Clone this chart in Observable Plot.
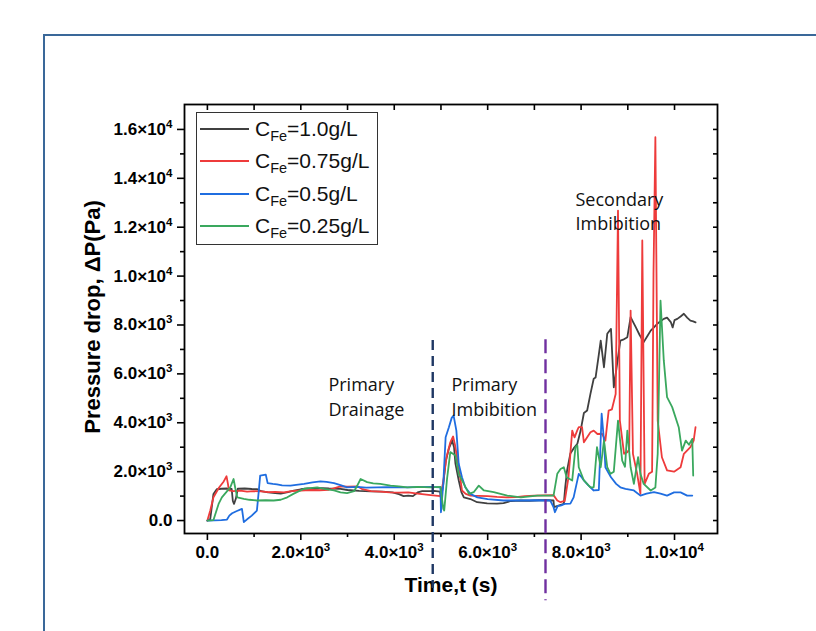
<!DOCTYPE html>
<html><head><meta charset="utf-8">
<script src="https://cdn.jsdelivr.net/npm/d3@7"></script>
<script src="https://cdn.jsdelivr.net/npm/@observablehq/plot@0.6"></script>
<style>
body{margin:0;background:#fff;overflow:hidden}
#wrap{position:relative;width:816px;height:631px;overflow:hidden;background:#fff}
#wrap svg{position:absolute;left:0;top:0}
#border{position:absolute;left:43px;top:34px;width:820px;height:700px;border:2px solid #3a6899;pointer-events:none}
#legend{position:absolute;left:196px;top:112px;width:182px;height:133px;border:1.3px solid #333;box-sizing:border-box;background:#fff;font-family:'Liberation Sans',Arial,sans-serif;font-size:21px;color:#111}
.row{position:absolute;left:0;height:32px;line-height:32px;width:100%}
.sw{position:absolute;left:3px;top:15px;width:49px;height:2px}
.lab{position:absolute;left:58px;top:0;white-space:nowrap}
.lab sub{font-size:14.5px;vertical-align:-5px;line-height:0}
</style></head><body><div id="wrap"></div>
<script>
// ---- data: [time (s), pressure drop (Pa)] ----
const cFe100 = [[0,0],[60,50],[130,1090],[200,1280],[300,1300],[420,1310],[520,1290],[545,800],[570,680],[610,900],[650,1300],[800,1310],[950,1290],[1070,1280],[1150,1200],[1300,1150],[1450,1120],[1570,1100],[1700,1150],[1850,1220],[2000,1280],[2150,1320],[2300,1300],[2450,1330],[2600,1310],[2850,1300],[3000,1250],[3250,1210],[3500,1190],[3750,1180],[3960,1150],[4100,1080],[4200,1000],[4300,1020],[4400,1000],[4500,1150],[4600,1200],[4780,1200],[4850,1210],[4980,1180],[5000,900],[5050,1500],[5100,2400],[5170,2950],[5240,3270],[5280,3000],[5310,2330],[5380,1650],[5440,1150],[5490,950],[5630,880],[5775,750],[5990,700],[6200,690],[6340,710],[6500,800],[6700,820],[6900,810],[7100,830],[7300,830],[7410,820],[7420,550],[7500,600],[7630,680],[7660,1360],[7700,2050],[7770,2740],[7840,2950],[7920,3140],[7990,3680],[8060,4400],[8130,4500],[8200,5180],[8270,5800],[8310,5850],[8380,6800],[8420,7360],[8490,6270],[8560,7640],[8640,7840],[8700,5450],[8770,6400],[8840,7360],[8900,7400],[8990,7500],[9060,8320],[9120,8100],[9170,7910],[9250,7600],[9340,7300],[9420,7550],[9490,7770],[9560,7900],[9630,8050],[9700,8150],[9770,8250],[9840,8300],[9920,8120],[9960,7900],[10000,8200],[10060,8250],[10130,8350],[10200,8460],[10270,8300],[10340,8180],[10400,8150],[10450,8110]];
const cFe075 = [[0,0],[60,400],[130,950],[250,1350],[350,1600],[410,1810],[440,1500],[460,1230],[550,1200],[700,1220],[850,1180],[1000,1200],[1150,1190],[1300,1160],[1450,1170],[1640,1150],[1800,1200],[2000,1230],[2200,1250],[2400,1240],[2600,1260],[2850,1400],[3000,1390],[3210,1400],[3300,1300],[3500,1200],[3700,1180],[3900,1150],[4100,1140],[4300,1150],[4500,1100],[4780,1040],[4990,1000],[5050,1600],[5120,2600],[5200,3200],[5260,3440],[5300,3100],[5380,2200],[5450,1230],[5530,1090],[5630,1020],[5800,1010],[6000,1000],[6200,970],[6400,950],[6600,960],[6800,1000],[7000,1020],[7200,1030],[7410,1040],[7490,820],[7560,750],[7650,800],[7730,1770],[7770,2730],[7810,3680],[7860,3400],[7920,3700],[7950,3820],[8020,3820],[8060,3200],[8130,3410],[8200,3610],[8270,3680],[8350,3540],[8450,3550],[8520,3270],[8590,4500],[8660,4550],[8740,5180],[8790,12680],[8830,4090],[8920,2730],[8990,2800],[9030,2900],[9060,8590],[9110,2730],[9200,1910],[9270,1090],[9310,11460],[9360,1500],[9450,1910],[9520,2000],[9550,10090],[9590,15680],[9640,4090],[9730,2590],[9840,2050],[9990,2000],[10130,2180],[10200,2730],[10340,3000],[10410,3270],[10450,3820]];
const cFe050 = [[0,0],[150,10],[300,20],[420,40],[470,200],[530,300],[620,380],[740,480],[780,-60],[850,50],[950,200],[1060,410],[1100,1200],[1130,1840],[1250,1880],[1290,1530],[1400,1500],[1490,1480],[1600,1440],[1780,1430],[1900,1460],[2070,1500],[2250,1560],[2420,1600],[2550,1580],[2710,1530],[2850,1450],[2990,1360],[3100,1370],[3210,1380],[3400,1350],[3640,1360],[3850,1370],[4050,1360],[4280,1360],[4500,1370],[4780,1380],[4990,1360],[5000,340],[5050,1500],[5100,3410],[5170,3820],[5230,4200],[5270,4300],[5330,3680],[5380,2320],[5450,1770],[5520,1360],[5630,1090],[5780,950],[6000,880],[6340,820],[6700,820],[7000,830],[7340,820],[7410,545],[7440,340],[7500,600],[7560,610],[7650,680],[7770,690],[7840,950],[7950,1910],[8000,1800],[8060,1640],[8150,1450],[8270,1230],[8380,1250],[8440,4370],[8490,3270],[8520,2180],[8640,1770],[8750,1500],[8840,1360],[8950,1300],[9130,1230],[9270,1020],[9400,1100],[9560,1160],[9700,1100],[9840,1020],[9990,1150],[10130,1150],[10270,1020],[10380,1020]];
const cFe025 = [[0,0],[130,20],[240,680],[310,950],[400,1150],[490,1360],[560,1700],[600,1300],[640,950],[780,890],[900,850],[1060,820],[1250,830],[1420,820],[1570,850],[1710,950],[1850,1100],[2070,1300],[2200,1330],[2350,1360],[2500,1300],[2710,1230],[2850,1150],[2990,1120],[3140,1200],[3200,1400],[3280,1700],[3420,1570],[3550,1520],[3700,1500],[3920,1430],[4100,1400],[4280,1360],[4500,1380],[4780,1360],[4990,1380],[5050,480],[5070,410],[5130,1700],[5200,2800],[5310,2660],[5380,1910],[5490,1500],[5600,1090],[5700,1160],[5810,1430],[5920,1230],[6130,1160],[6420,1020],[6710,950],[7060,1020],[7410,1020],[7490,1910],[7560,2110],[7630,2180],[7690,1770],[7810,1640],[7880,3000],[7920,3070],[7950,2180],[8060,1640],[8200,1360],[8270,1360],[8340,3000],[8420,2180],[8490,3270],[8560,2180],[8630,1910],[8700,2000],[8790,4090],[8880,2450],[8940,2200],[8990,3680],[9060,2180],[9130,1500],[9220,2590],[9270,1910],[9340,1500],[9490,1230],[9590,1350],[9640,2730],[9700,9000],[9770,6550],[9840,5050],[9950,4640],[10090,3820],[10160,2860],[10240,3270],[10310,3100],[10380,3340],[10400,1840]];

const seriesNames = ["1.0g/L", "0.75g/L", "0.5g/L", "0.25g/L"];
const seriesColors = ["#404040", "#ee3b3b", "#1f6de0", "#3aa85e"];
const seriesData = [cFe100, cFe075, cFe050, cFe025];

const xMajor = [0, 2000, 4000, 6000, 8000, 10000];
const xMajorLabels = ["0.0", "2.0×10³", "4.0×10³", "6.0×10³", "8.0×10³", "1.0×10⁴"];
const xMinor = [1000, 3000, 5000, 7000, 9000];
const yMajor = [0, 2000, 4000, 6000, 8000, 10000, 12000, 14000, 16000];
const yMajorLabels = ["0.0", "2.0×10³", "4.0×10³", "6.0×10³", "8.0×10³", "1.0×10⁴", "1.2×10⁴", "1.4×10⁴", "1.6×10⁴"];
const yMinor = [1000, 3000, 5000, 7000, 9000, 11000, 13000, 15000];
const xTop = [0, 1000, 2000, 3000, 4000, 5000, 6000, 7000, 8000, 9000, 10000];
const yAll = [...yMajor, ...yMinor];

const stageLines = [
  {t: 4824, top: 7365, bottom: -2780, color: "#1f3864", dash: "10,6"},
  {t: 7238, top: 7400, bottom: -3280, color: "#7030a0", dash: "14,6"}
];
const stageLabels = [
  {t: 2591, p: 4296, label: "Primary\nDrainage"},
  {t: 5225, p: 4296, label: "Primary\nImbibition"},
  {t: 7880, p: 11866, label: "Secondary\nImbibition"}
];

const fmtX = v => xMajorLabels[xMajor.indexOf(v)];
const fmtY = v => yMajorLabels[yMajor.indexOf(v)];

const marks = [
  Plot.frame({stroke: "#000", strokeWidth: 1.8}),
  Plot.axisY({ticks: yMajor, tickSize: 7, tickPadding: 5, tickFormat: fmtY, label: null, fontSize: 17, fontWeight: "bold", strokeWidth: 1.6}),
  Plot.axisY({ticks: yMinor, tickSize: 4, tickFormat: () => "", label: null, strokeWidth: 1.6}),
  Plot.axisY({anchor: "right", ticks: yAll, tickSize: -5, tickFormat: () => "", label: null, strokeWidth: 1.6}),
  Plot.axisX({ticks: xMajor, tickSize: 7, tickPadding: 5, tickFormat: fmtX, label: null, fontSize: 17, fontWeight: "bold", strokeWidth: 1.6}),
  Plot.axisX({ticks: xMinor, tickSize: 4, tickFormat: () => "", label: null, strokeWidth: 1.6}),
  Plot.axisX({anchor: "top", ticks: xTop, tickSize: -5, tickFormat: () => "", label: null, strokeWidth: 1.6}),
  Plot.text(["Time,t (s)"], {frameAnchor: "bottom", dy: 58, text: d => d, fontSize: 21, fontWeight: "bold", fill: "#000"}),
  Plot.text(["Pressure drop, ΔP(Pa)"], {frameAnchor: "left", dx: -92, dy: -2, rotate: -90, textAnchor: "middle", text: d => d, fontSize: 22, fontWeight: "bold", fill: "#000"}),
  ...seriesData.map((s, i) => Plot.line(s, {x: d => d[0], y: d => d[1], stroke: seriesColors[i], strokeWidth: 1.8, curve: "linear"})),
  Plot.ruleX(stageLines, {x: "t", y1: "top", y2: "bottom", stroke: "color", strokeWidth: 2.4}),
  Plot.text(stageLabels, {x: "t", y: "p", text: "label", textAnchor: "start", lineAnchor: "bottom", lineHeight: 1.38, fontSize: 18, fontFamily: "'Open Sans', sans-serif", fill: "#111"})
];

const chart = Plot.plot({
  width: 816, height: 631,
  marginLeft: 184, marginRight: 99, marginTop: 104, marginBottom: 98,
  x: {domain: [-490, 10920]},
  y: {domain: [-530, 17020]},
  style: {fontFamily: "'Liberation Sans', Arial, sans-serif", background: "transparent", color: "#000"},
  marks
});
// dash pattern per stage line
chart.querySelectorAll("[aria-label='rule'] line").forEach((el, i) => el.setAttribute("stroke-dasharray", stageLines[i].dash));
// superscript exponents on tick labels
const supMap = {"³": "3", "⁴": "4"};
chart.querySelectorAll("text").forEach(t => {
  const s = t.textContent;
  const last = s.slice(-1);
  if (s.includes("×10") && supMap[last]) {
    t.textContent = s.slice(0, -1);
    const ts = document.createElementNS("http://www.w3.org/2000/svg", "tspan");
    ts.setAttribute("font-size", "11.5");
    ts.setAttribute("dy", "-7");
    ts.textContent = supMap[last];
    t.appendChild(ts);
  }
});

const wrap = document.getElementById("wrap");
wrap.appendChild(chart);
const border = document.createElement("div"); border.id = "border"; wrap.appendChild(border);
const legend = document.createElement("div"); legend.id = "legend";
seriesNames.forEach((n, i) => {
  const row = document.createElement("div"); row.className = "row"; row.style.top = (i * 32.3) + "px";
  row.innerHTML = `<div class="sw" style="background:${seriesColors[i]}"></div><div class="lab">C<sub>Fe</sub>=${n}</div>`;
  legend.appendChild(row);
});
wrap.appendChild(legend);
</script></body></html>
